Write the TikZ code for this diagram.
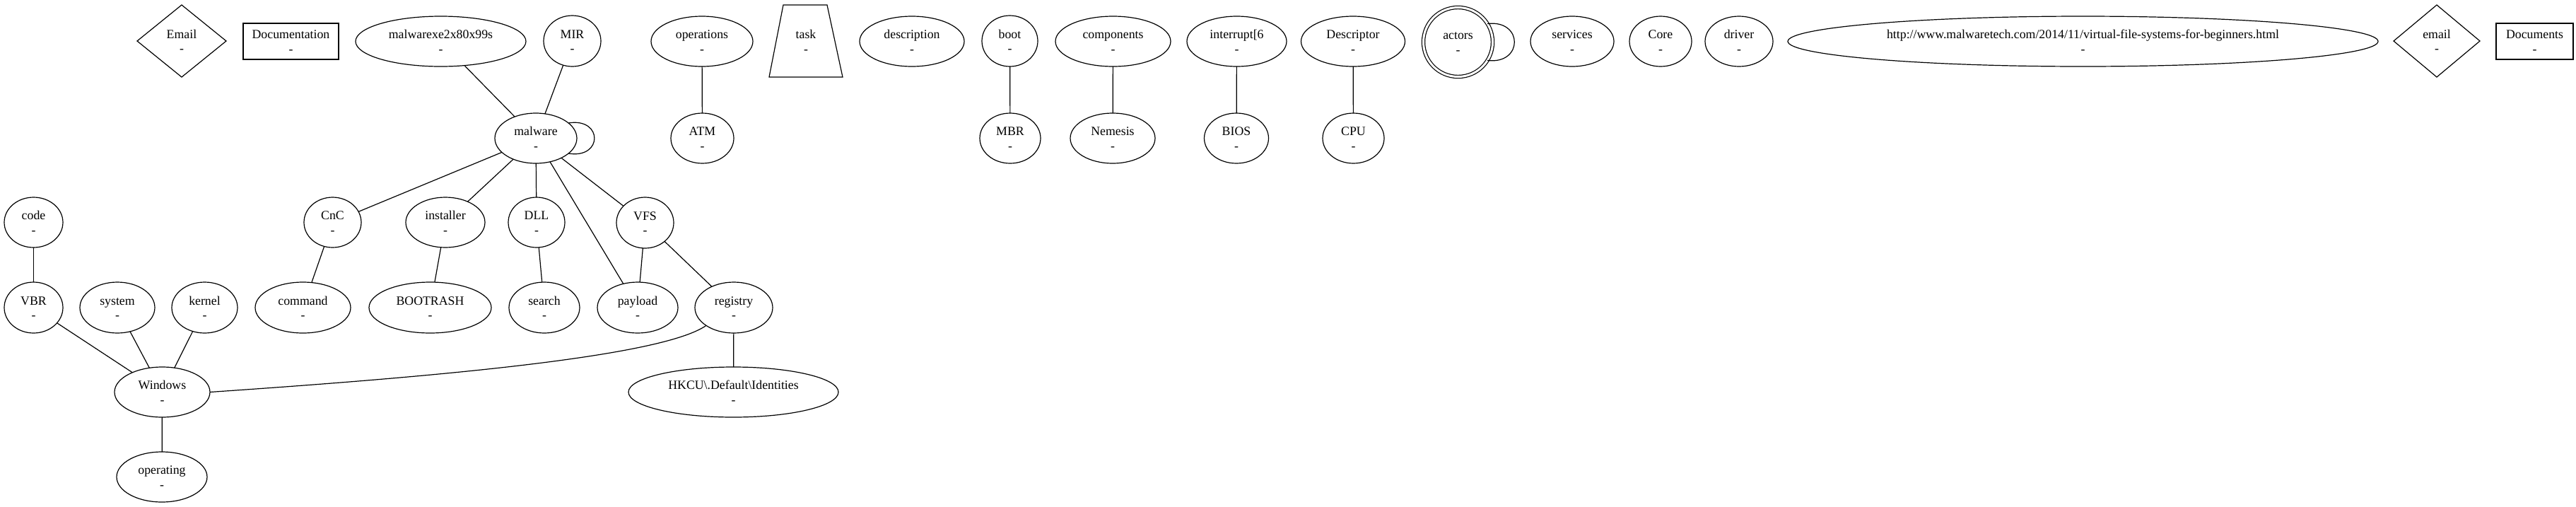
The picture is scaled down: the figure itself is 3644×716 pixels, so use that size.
\documentclass[tikz,border=0pt]{standalone}
\usepackage{fontspec}
\setmainfont{Liberation Serif}
\usetikzlibrary{shapes.geometric}
\newcommand\lbl[1]{\makebox[0pt]{\rule{0pt}{14pt}#1}\\\makebox[0pt]{\rule[-1.5pt]{0pt}{1.5pt}-}}
\tikzset{
  every node/.style={font=\fontsize{17.8}{20.5}\selectfont, align=center, inner sep=0pt, outer sep=0pt},
  ell/.style={draw, ellipse, minimum height=71pt, minimum width=#1},
  dia/.style={draw, diamond, minimum height=102pt, minimum width=#1},
  box/.style={draw, rectangle, minimum height=51pt, minimum width=#1},
  edge/.style={line width=1.2pt}
}
\begin{document}
\begin{tikzpicture}[x=1pt, y=-1pt, line width=1.2pt]
\useasboundingbox (0,0) rectangle (3644,716);
% row 1
\node[dia=126pt] (Email) at (257,58) {\lbl{Email}};
\node[box=135pt] (Documentation) at (411.5,58.5) {\lbl{Documentation}};
\node[ell=241pt] (mxe) at (623.5,58.5) {\lbl{malwarexe2x80x99s}};
\node[ell=81pt, minimum height=72pt] (MIR) at (809.5,58) {\lbl{MIR}};
\node[ell=144pt] (operations) at (993,58.5) {\lbl{operations}};
\node (task) at (1140,58.5) {\lbl{task}};
\draw (1108,7) -- (1170,7) -- (1192,109) -- (1088,109) -- cycle;
\node[ell=148pt] (description) at (1290,58.5) {\lbl{description}};
\node[ell=79pt, minimum height=72pt] (boot) at (1428.5,58) {\lbl{boot}};
\node[ell=163pt] (components) at (1574.5,58.5) {\lbl{components}};
\node[ell=141pt] (interrupt) at (1749.5,58.5) {\lbl{interrupt[6}};
\node[ell=147pt] (Descriptor) at (1914,58.5) {\lbl{Descriptor}};
\node[draw, circle, double, double distance=3pt, minimum size=98pt] (actors) at (2062.5,59.5) {\lbl{actors}};
\node[ell=118pt] (services) at (2224,58.5) {\lbl{services}};
\node[ell=88pt] (Core) at (2349,58.5) {\lbl{Core}};
\node[ell=96pt] (driver) at (2460,58.5) {\lbl{driver}};
\node[ell=835pt] (url) at (2946.5,58.5) {\lbl{http://www.malwaretech.com/2014/11/virtual-file-systems-for-beginners.html}};
\node[dia=122pt] (email) at (3447,58) {\lbl{email}};
\node[box=109pt] (Documents) at (3585.5,58.5) {\lbl{Documents}};
% row 2
\node[ell=116pt] (malware) at (758,195.5) {\lbl{malware}};
\node[ell=89pt] (ATM) at (993.5,195.5) {\lbl{ATM}};
\node[ell=86pt] (MBR) at (1429,195.5) {\lbl{MBR}};
\node[ell=120pt] (Nemesis) at (1574,195.5) {\lbl{Nemesis}};
\node[ell=91pt] (BIOS) at (1749,195.5) {\lbl{BIOS}};
\node[ell=87pt] (CPU) at (1914.5,195.5) {\lbl{CPU}};
% row 3
\node[ell=83pt] (code) at (47.5,314.5) {\lbl{code}};
\node[ell=81pt] (CnC) at (470.5,314.5) {\lbl{CnC}};
\node[ell=112pt] (installer) at (630,314.5) {\lbl{installer}};
\node[ell=80pt] (DLL) at (759,314.5) {\lbl{DLL}};
\node[ell=81pt, minimum height=72pt] (VFS) at (912.5,315) {\lbl{VFS}};
% row 4
\node[ell=83pt, minimum height=72pt] (VBR) at (47.5,435) {\lbl{VBR}};
\node[ell=106pt, minimum height=72pt] (system) at (166,435) {\lbl{system}};
\node[ell=93pt, minimum height=72pt] (kernel) at (289.5,435) {\lbl{kernel}};
\node[ell=135pt, minimum height=72pt] (command) at (428.5,435) {\lbl{command}};
\node[ell=173pt, minimum height=72pt] (BOOTRASH) at (608.5,435) {\lbl{BOOTRASH}};
\node[ell=100pt, minimum height=72pt] (search) at (770,435) {\lbl{search}};
\node[ell=114pt, minimum height=72pt] (payload) at (902,435) {\lbl{payload}};
\node[ell=110pt, minimum height=72pt] (registry) at (1038,435) {\lbl{registry}};
% row 5
\node[ell=135pt] (Windows) at (229.5,554.5) {\lbl{Windows}};
\node[ell=297pt] (HKCU) at (1037.5,554.5) {\lbl{HKCU\textbackslash.Default\textbackslash Identities}};
% row 6
\node[ell=128pt] (operating) at (229,674.5) {\lbl{operating}};
% edges
\draw[edge] (mxe) -- (malware);
\draw[edge] (MIR) -- (malware);
\draw[edge] (malware.25) .. controls +(49,-8) and +(49,8) .. (malware.-25);
\draw[edge] (malware) -- (CnC);
\draw[edge] (malware) -- (installer);
\draw[edge] (malware) -- (DLL);
\draw[edge] (malware) -- (payload);
\draw[edge] (malware) -- (VFS);
\draw[edge] (CnC) -- (command);
\draw[edge] (installer) -- (BOOTRASH);
\draw[edge] (DLL) -- (search);
\draw[edge] (VFS) -- (payload);
\draw[edge] (VFS) -- (registry);
\draw[edge] (registry) -- (HKCU);
\draw[edge] (registry.213) .. controls +(-65.6,45.6) and +(299,-20.4) .. (Windows.east);
\draw[edge] (code) -- (VBR);
\draw[edge] (VBR) -- (Windows);
\draw[edge] (system) -- (Windows);
\draw[edge] (kernel) -- (Windows);
\draw[edge] (Windows) -- (operating);
\draw[edge] (operations) -- (ATM);
\draw[edge] (boot) -- (MBR);
\draw[edge] (components) -- (Nemesis);
\draw[edge] (interrupt) -- (BIOS);
\draw[edge] (Descriptor) -- (CPU);
\draw[edge] (actors.32) .. controls +(51,-6) and +(51,6) .. (actors.-32);
\end{tikzpicture}
\end{document}
